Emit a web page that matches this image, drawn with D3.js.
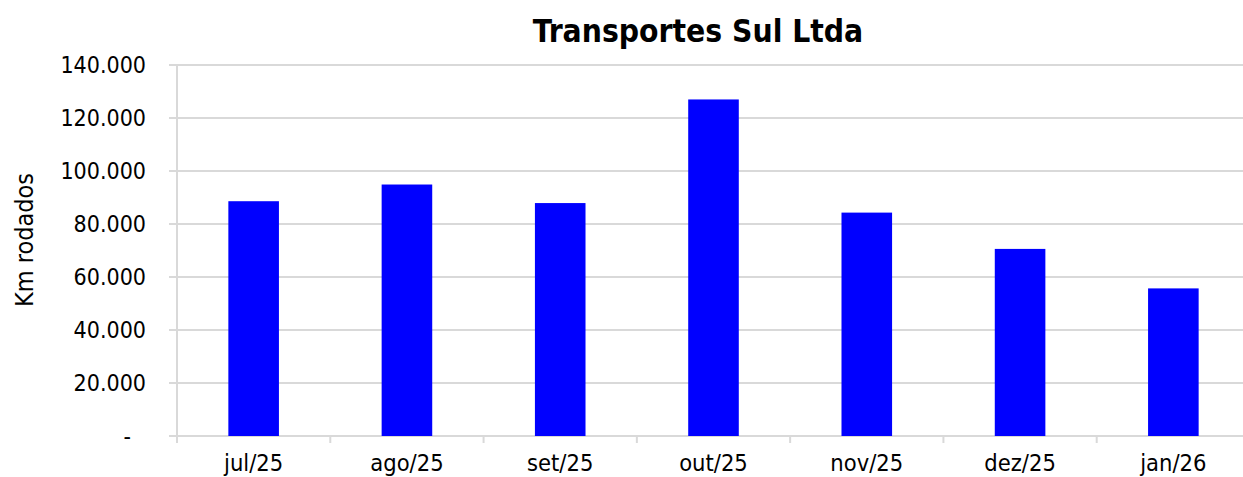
<!DOCTYPE html>
<html>
<head>
<meta charset="utf-8">
<script src="https://cdn.jsdelivr.net/npm/d3@7"></script>
<style>
  html, body { margin: 0; padding: 0; background: #fff; overflow: hidden; }
  text { font-family: "DejaVu Sans Condensed", "DejaVu Sans", sans-serif; font-stretch: condensed; }
</style>
</head>
<body>
<script>
const months = ["jul/25", "ago/25", "set/25", "out/25", "nov/25", "dez/25", "jan/26"];
const km = [88600, 94900, 87900, 127000, 84300, 70600, 55700];
const yTicks = [0, 20000, 40000, 60000, 80000, 100000, 120000, 140000];
const yTickLabels = ["-", "20.000", "40.000", "60.000", "80.000", "100.000", "120.000", "140.000"];

const width = 1243, height = 477;
const plotLeft = 177, plotRight = 1250, plotTop = 65, plotBottom = 436;

const svg = d3.select("body")
    .append("svg")
    .attr("width", width)
    .attr("height", height);

const x = d3.scaleBand()
    .domain(months)
    .range([plotLeft, plotRight])
    .paddingInner(0.67)
    .paddingOuter(0.335);

const y = d3.scaleLinear()
    .domain([0, 140000])
    .range([plotBottom, plotTop]);

// gridlines
svg.append("g")
    .selectAll("line")
    .data(yTicks)
    .join("line")
    .attr("x1", plotLeft - 8)
    .attr("x2", plotRight)
    .attr("y1", d => y(d))
    .attr("y2", d => y(d))
    .attr("stroke", "#d9d9d9")
    .attr("stroke-width", 2);

// y axis line
svg.append("line")
    .attr("x1", plotLeft).attr("x2", plotLeft)
    .attr("y1", plotTop).attr("y2", plotBottom + 7)
    .attr("stroke", "#d9d9d9")
    .attr("stroke-width", 2);

// category boundary ticks
const step = x.step();
svg.append("g")
    .selectAll("line")
    .data(months.slice(1))
    .join("line")
    .attr("x1", d => x(d) - (step - x.bandwidth()) / 2)
    .attr("x2", d => x(d) - (step - x.bandwidth()) / 2)
    .attr("y1", plotBottom)
    .attr("y2", plotBottom + 7)
    .attr("stroke", "#d9d9d9")
    .attr("stroke-width", 2);

// bars
svg.append("g")
    .selectAll("rect")
    .data(km)
    .join("rect")
    .attr("x", (d, i) => x(months[i]))
    .attr("y", d => y(d))
    .attr("width", x.bandwidth())
    .attr("height", d => y(0) - y(d))
    .attr("fill", "#0000ff");

// y tick labels
svg.append("g")
    .selectAll("text")
    .data(yTicks)
    .join("text")
    .attr("x", d => d === 0 ? 131 : 146)
    .attr("y", d => y(d) + 8)
    .attr("text-anchor", "end")
    .attr("font-size", "23px")
    .attr("fill", "#000")
    .text((d, i) => yTickLabels[i]);

// x labels
svg.append("g")
    .selectAll("text")
    .data(months)
    .join("text")
    .attr("x", d => x(d) + x.bandwidth() / 2)
    .attr("y", 471)
    .attr("text-anchor", "middle")
    .attr("font-size", "23.5px")
    .attr("fill", "#000")
    .text(d => d);

// y axis title
svg.append("text")
    .attr("transform", "translate(33,240) rotate(-90)")
    .attr("text-anchor", "middle")
    .attr("font-size", "25px")
    .attr("fill", "#000")
    .text("Km rodados");

// title
svg.append("text")
    .attr("x", 698)
    .attr("y", 42)
    .attr("text-anchor", "middle")
    .attr("font-size", "31.5px")
    .attr("font-weight", "bold")
    .attr("fill", "#000")
    .text("Transportes Sul Ltda");
</script>
</body>
</html>
